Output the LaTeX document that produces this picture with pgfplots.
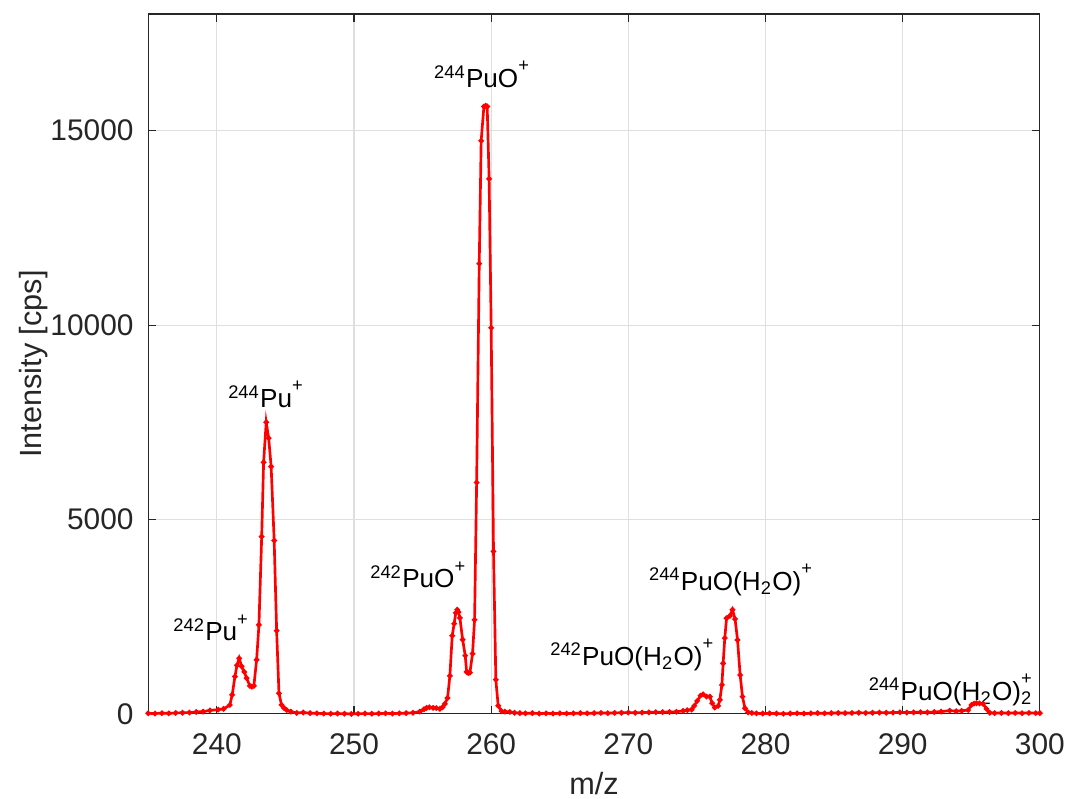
\documentclass[border=0pt]{standalone}
\usepackage{pgfplots}
\pgfplotsset{compat=1.18}
\usepackage{fontspec}
\setmainfont{Liberation Sans}
\definecolor{axgray}{RGB}{38,38,38}
\definecolor{gridgray}{RGB}{223,223,223}
\newcommand{\iso}[1]{\textsuperscript{#1}}
\newcommand{\chg}{\raisebox{0.45ex}{\textsuperscript{+}}}
\begin{document}
\begin{tikzpicture}
\begin{axis}[
    scale only axis,
    width=334.4pt, height=262.5pt,
    xmin=235, xmax=300,
    ymin=0, ymax=18000,
    xtick={240,250,...,300},
    ytick={0,5000,10000,15000},
    scaled y ticks=false,
    /pgf/number format/1000 sep={},
    /pgf/number format/assume math mode=true,
    tick align=inside,
    major tick length=3pt,
    grid=major,
    grid style={gridgray, line width=0.4pt},
    axis line style={axgray, line width=0.4pt},
    tick style={axgray, line width=0.4pt},
    ticklabel style={font=\fontsize{11.2}{13}\selectfont, text=axgray},
    yticklabel style={xshift=-2pt},
    xticklabel style={yshift=-4pt},
    xlabel={m/z},
    ylabel={Intensity [cps]},
    label style={font=\fontsize{11.5}{13}\selectfont, text=axgray},
    xlabel style={at={(axis description cs:0.5,-0.1)}, anchor=center},
    ylabel style={at={(axis description cs:-0.129,0.5)}, anchor=center},
    clip=false,
]
\addplot[color=red, line width=1pt, mark=*, mark size=0.45pt] coordinates {
(235.0,15) (235.5,10) (236.0,20) (236.5,15) (237.0,25) (237.5,30) (238.0,35)
(238.5,50) (239.0,60) (239.5,90) (240.1,110) (240.5,130) (240.95,230)
(241.12,490) (241.32,960) (241.47,1250) (241.63,1430) (241.81,1220)
(242.0,1080) (242.17,920) (242.41,720) (242.55,700) (242.70,720)
(242.90,1390) (243.07,2290) (243.27,4560) (243.41,6470) (243.60,7500)
(243.78,7090) (243.96,6360) (244.18,4460) (244.36,2140) (244.53,530)
(244.72,230) (244.9,150) (245.09,100) (245.4,60) (245.82,25) (246.3,35)
(246.8,20) (247.3,15) (247.8,10) (248.3,5) (248.8,10) (249.3,5) (249.8,0)
(250.3,5) (250.8,10) (251.3,5) (251.8,10) (252.3,15) (252.8,10) (253.3,15)
(253.8,20) (254.3,30) (254.8,60) (255.1,120) (255.29,155) (255.5,170)
(255.77,155) (256.0,150) (256.26,130) (256.45,170) (256.63,260) (256.82,410)
(256.99,980) (257.16,2010) (257.30,2320) (257.42,2600) (257.52,2680)
(257.62,2620) (257.72,2470) (257.92,1910) (258.11,1500) (258.21,1080)
(258.33,1050) (258.45,1060) (258.64,1550) (258.79,2420) (258.94,5950)
(259.13,11580) (259.27,14740) (259.47,15620) (259.60,15640) (259.71,15620)
(259.85,13760) (260.00,9930) (260.17,4180) (260.34,880) (260.51,210)
(260.76,70) (261.0,60) (261.36,50) (261.7,30) (262.09,20) (262.5,15)
(263,20) (263.5,10) (264,15) (264.5,10) (265,15) (265.5,10) (266,15)
(266.5,20) (267,15) (267.5,20) (268,25) (268.5,20) (269,25) (269.5,30)
(270,35) (270.5,30) (271,35) (271.5,40) (272,45) (272.5,45) (273.0,50)
(273.5,55) (274.0,80) (274.3,95) (274.61,110) (274.80,205) (275.02,335)
(275.26,470) (275.45,505) (275.70,445) (275.94,445) (276.11,275)
(276.30,163) (276.55,205) (276.67,360) (276.82,745) (276.91,1300)
(277.03,1950) (277.16,2460) (277.40,2520) (277.59,2680) (277.78,2440)
(277.96,1900) (278.15,1000) (278.32,445) (278.50,145) (278.73,40)
(279.0,25) (279.34,15) (279.8,10) (280.3,15) (280.8,10) (281.3,5)
(281.8,10) (282.3,15) (282.8,10) (283.3,15) (283.8,20) (284.3,15)
(284.8,20) (285.3,25) (285.8,20) (286.3,25) (286.8,30) (287.3,25)
(287.8,30) (288.3,35) (288.8,30) (289.3,35) (289.8,40) (290.3,35)
(290.8,40) (291.3,45) (291.8,40) (292.3,50) (292.8,60) (293.43,85)
(293.9,70) (294.3,80) (294.77,100) (295.01,230) (295.2,265) (295.38,275)
(295.6,270) (295.86,260) (296.11,130) (296.35,30) (296.7,20) (297.2,25)
(297.7,20) (298.2,25) (298.7,20) (299.2,25) (299.7,20) (300,20)
};
\begin{scope}[every node/.style={font=\fontsize{9.8}{11}\selectfont, text=black, inner sep=0pt}]
\node at (axis cs:239.6,2213) {\iso{242}Pu\chg};
\node at (axis cs:243.6,8208) {\iso{244}Pu\chg};
\node at (axis cs:254.7,3577) {\iso{242}PuO\chg};
\node at (axis cs:259.35,16440) {\iso{244}PuO\chg};
\node at (axis cs:277.5,3448) {\iso{244}PuO(H\textsubscript{2}O)\chg};
\node at (axis cs:270.3,1518) {\iso{242}PuO(H\textsubscript{2}O)\chg};
\node at (axis cs:293.5,617) {\iso{244}PuO(H\textsubscript{2}O)\rlap{\chg}\textsubscript{2}};
\end{scope}
\end{axis}
\pgfresetboundingbox
\path[use as bounding box] ([xshift=-55.6pt,yshift=-31.9pt]current axis.south west) rectangle ([xshift=9.8pt,yshift=5.25pt]current axis.north east);
\end{tikzpicture}
\end{document}
